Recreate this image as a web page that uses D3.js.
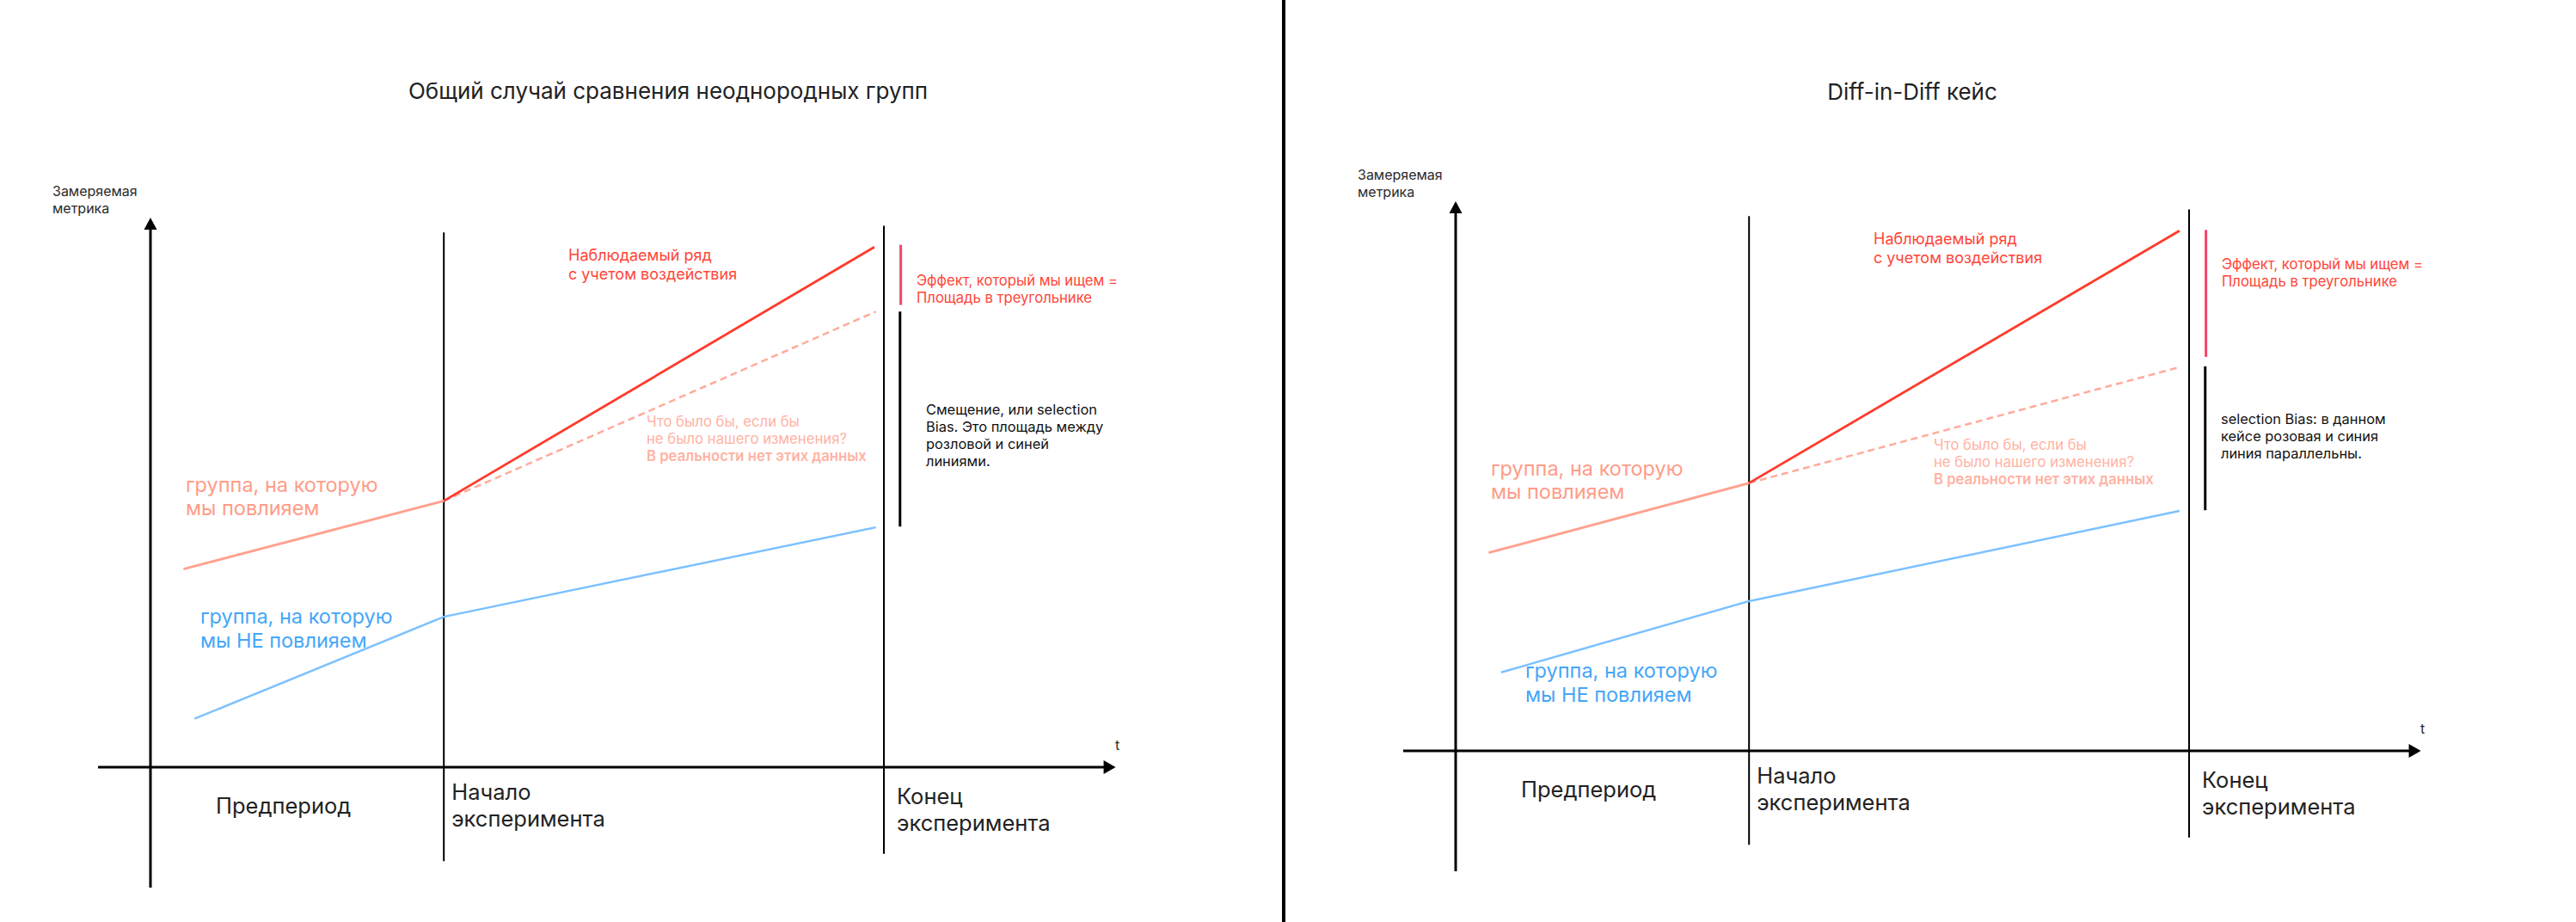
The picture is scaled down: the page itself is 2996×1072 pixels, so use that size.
<!DOCTYPE html>
<html><head><meta charset="utf-8">
<script src="https://cdn.jsdelivr.net/npm/d3@7"></script>
<style>
html,body{margin:0;padding:0;background:#fff;}
svg{display:block;font-family:Inter,"Noto Sans",sans-serif;}
</style>
</head><body>
<svg id="chart" width="2996" height="1072"></svg>
<script>
// ---------- DATA ----------
const titles = ["Общий случай сравнения неоднородных групп", "Diff-in-Diff кейс"];
const periodTimes = [0, 4, 10];            // Y axis, start of experiment, end of experiment
const periodLabels = [["Предпериод"], ["Начало", "эксперимента"], ["Конец", "эксперимента"]];
const yAxisLabel = ["Замеряемая", "метрика"];
const xAxisLabel = "t";

// Panel 1: general case (t, metric)
const generalTreated = [[0.45, 2.70], [4, 3.63]];
const generalObserved = [[4, 3.63], [9.87, 7.09]];
const generalCounterfactual = [[4, 3.63], [9.89, 6.21]];
const generalControl = [[0.60, 0.66], [4, 2.05], [9.89, 3.27]];
const generalEffect = [7.12, 6.30];
const generalBias = [6.21, 3.28];

// Panel 2: diff-in-diff (t, metric)
const didTreated = [[0.45, 2.70], [4, 3.65]];
const didObserved = [[4, 3.65], [9.87, 7.09]];
const didCounterfactual = [[4, 3.65], [9.87, 5.23]];
const didControl = [[0.62, 1.07], [4, 2.04], [9.87, 3.27]];
const didEffect = [7.10, 5.37];
const didBias = [5.24, 3.28];

// Annotation texts
const treatedLabel = ["группа, на которую", "мы повлияем"];
const controlLabel = ["группа, на которую", "мы НЕ повлияем"];
const observedLabel = ["Наблюдаемый ряд", "с учетом воздействия"];
const counterfactualLabel = ["Что было бы, если бы", "не было нашего изменения?", "В реальности нет этих данных"];
const effectLabel = ["Эффект, который мы ищем =", "Площадь в треугольнике"];
const generalBiasLabel = ["Смещение, или selection", "Bias. Это площадь между", "розловой и синей", "линиями."];
const didBiasLabel = ["selection Bias: в данном", "кейсе розовая и синия", "линия параллельны."];

// ---------- STYLE / LAYOUT ----------
const C = {
  red: "#FF3B2B", pink: "#FFA18F", blue: "#7CC1FF", dash: "#FFAB9B",
  redText: "#FF4538", pinkText: "#FF9C88", blueText: "#45A6F7", cfText: "#FFB2A3",
  bar: "#F2456A", ink: "#000", text: "#2b2b2b"
};

const panels = [
  { origin: [175, 892], title: titles[0], titleX: 777, titleY: 115,
    treated: generalTreated, observed: generalObserved, cf: generalCounterfactual, control: generalControl,
    effect: generalEffect, bias: generalBias, biasLabel: generalBiasLabel,
    controlPos: [58, -167], cfPos: [577, -396], biasPos: [902, -410], biasLH: 20 },
  { origin: [1693, 873], title: titles[1], titleX: 2224, titleY: 116,
    treated: didTreated, observed: didObserved, cf: didCounterfactual, control: didControl,
    effect: didEffect, bias: didBias, biasLabel: didBiasLabel,
    controlPos: [81, -85], cfPos: [556, -350], biasPos: [890, -380], biasLH: 20 }
];

const svg = d3.select("#chart");

// divider
svg.append("line").attr("x1", 1493).attr("x2", 1493).attr("y1", 0).attr("y2", 1072)
  .attr("stroke", "#000").attr("stroke-width", 4);

function multiline(g, lines, x, y, lh, opts) {
  const t = g.append("text").attr("x", x).attr("y", y)
    .attr("font-size", opts.size).attr("fill", opts.fill)
    .attr("font-weight", opts.weight || 400);
  if (opts.anchor) t.attr("text-anchor", opts.anchor);
  lines.forEach((s, i) => {
    const ts = t.append("tspan").attr("x", x).attr("y", y + i * lh).text(s);
    if (opts.boldLast && i === lines.length - 1) ts.attr("font-weight", 600);
  });
  return t;
}

panels.forEach(p => {
  const [ox, oy] = p.origin;
  const x = d3.scaleLinear().domain([0, 10]).range([ox, ox + 853]);
  const y = d3.scaleLinear().domain([0, 10]).range([oy, oy - 853]);
  const g = svg.append("g");
  const line = d3.line().x(d => x(d[0])).y(d => y(d[1]));

  // title
  g.append("text").attr("x", p.titleX).attr("y", p.titleY).attr("text-anchor", "middle")
    .attr("font-size", 26).attr("fill", "#222").text(p.title);

  // vertical period lines
  g.append("line").attr("x1", x(periodTimes[1])).attr("x2", x(periodTimes[1]))
    .attr("y1", y(7.29)).attr("y2", y(-1.28)).attr("stroke", C.ink).attr("stroke-width", 2);
  g.append("line").attr("x1", x(periodTimes[2])).attr("x2", x(periodTimes[2]))
    .attr("y1", y(7.38)).attr("y2", y(-1.18)).attr("stroke", C.ink).attr("stroke-width", 2);

  // Y axis
  const yTop = y(7.49);
  g.append("line").attr("x1", x(0)).attr("x2", x(0)).attr("y1", y(-1.64)).attr("y2", yTop + 10)
    .attr("stroke", C.ink).attr("stroke-width", 3);
  g.append("path").attr("d", `M${x(0)},${yTop} L${x(0) - 7.5},${yTop + 14} L${x(0) + 7.5},${yTop + 14} Z`).attr("fill", C.ink);

  // X axis
  const xRight = x(13.16);
  g.append("line").attr("x1", x(-0.715)).attr("x2", xRight - 10).attr("y1", y(0)).attr("y2", y(0))
    .attr("stroke", C.ink).attr("stroke-width", 3);
  g.append("path").attr("d", `M${xRight},${y(0)} L${xRight - 14},${y(0) - 8} L${xRight - 14},${y(0) + 8} Z`).attr("fill", C.ink);

  // axis labels
  multiline(g, yAxisLabel, ox - 114, oy - 664, 20, { size: 16, fill: C.text });
  g.append("text").attr("x", ox + 1122).attr("y", oy - 20).attr("font-size", 16).attr("fill", C.text).text(xAxisLabel);

  // period labels
  multiline(g, periodLabels[0], ox + 76, oy + 54, 31, { size: 25.5, fill: "#222" });
  multiline(g, periodLabels[1], x(periodTimes[1]) + 9, oy + 38, 31, { size: 25.5, fill: "#222" });
  multiline(g, periodLabels[2], x(periodTimes[2]) + 15, oy + 43, 31, { size: 25.5, fill: "#222" });

  // series lines
  g.append("path").datum(p.cf).attr("d", line).attr("fill", "none").attr("stroke", C.dash)
    .attr("stroke-width", 2.5).attr("stroke-dasharray", "8 5");
  g.append("path").datum(p.treated).attr("d", line).attr("fill", "none").attr("stroke", C.pink).attr("stroke-width", 2.8);
  g.append("path").datum(p.control).attr("d", line).attr("fill", "none").attr("stroke", C.blue).attr("stroke-width", 2.5);
  g.append("path").datum(p.observed).attr("d", line).attr("fill", "none").attr("stroke", C.red).attr("stroke-width", 2.8);

  // effect & bias bars
  g.append("line").attr("x1", x(10.23)).attr("x2", x(10.23)).attr("y1", y(p.effect[0])).attr("y2", y(p.effect[1]))
    .attr("stroke", C.bar).attr("stroke-width", 3);
  g.append("line").attr("x1", x(10.22)).attr("x2", x(10.22)).attr("y1", y(p.bias[0])).attr("y2", y(p.bias[1]))
    .attr("stroke", C.ink).attr("stroke-width", 3);

  // annotations
  multiline(g, treatedLabel, ox + 41, oy - 320, 27, { size: 23.5, fill: C.pinkText });
  multiline(g, controlLabel, ox + p.controlPos[0], oy + p.controlPos[1], 28, { size: 23.5, fill: C.blueText });
  multiline(g, observedLabel, ox + 486, oy - 589, 22, { size: 18, fill: C.redText });
  multiline(g, counterfactualLabel, ox + p.cfPos[0], oy + p.cfPos[1], 20, { size: 16.7, fill: C.cfText, boldLast: true });
  multiline(g, effectLabel, ox + 891, oy - 560, 20, { size: 16.6, fill: C.redText, weight: 400 });
  multiline(g, p.biasLabel, ox + p.biasPos[0], oy + p.biasPos[1], p.biasLH, { size: 16.4, fill: "#111", weight: 400 });
});
</script>
</body></html>
